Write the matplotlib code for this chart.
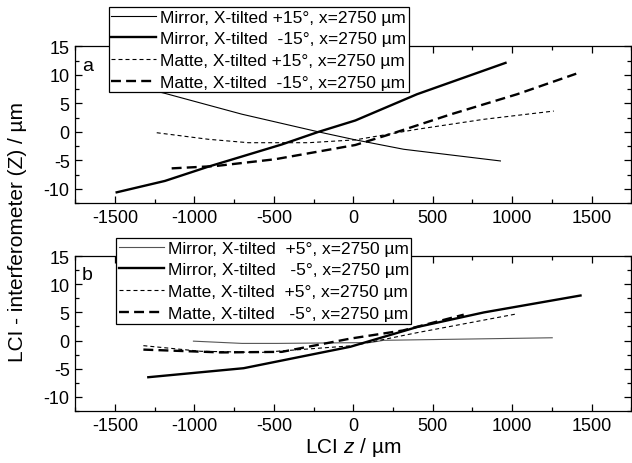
import matplotlib
matplotlib.use("Agg")
from matplotlib import pyplot as plt
from matplotlib.ticker import MultipleLocator

plt.rcParams["font.family"] = ["Liberation Sans", "DejaVu Sans"]
plt.rcParams["mathtext.fontset"] = "custom"
plt.rcParams["mathtext.it"] = "Liberation Sans:italic"
plt.rcParams["axes.unicode_minus"] = False

# panel a: +/-15 deg tilt
a_mirror_p_x = [-1250, -1185, -701, -219, 13, 317, 926]
a_mirror_p_y = [7.2, 6.75, 3.1, 0.0, -1.4, -3.05, -5.1]
a_mirror_m_x = [-1489, -1185, -912, -449, -219, 13, 401, 958]
a_mirror_m_y = [-10.6, -8.6, -6.1, -2.2, 0.0, 2.0, 6.6, 12.1]
a_matte_p_x = [-1237, -912, -660, -282, 13, 401, 821, 1262]
a_matte_p_y = [-0.15, -1.3, -1.9, -1.9, -1.4, 0.45, 2.2, 3.65]
a_matte_m_x = [-1143, -870, -492, 13, 233, 611, 1031, 1403]
a_matte_m_y = [-6.4, -6.0, -4.8, -2.3, -0.4, 3.05, 6.6, 10.2]

# panel b: +/-5 deg tilt
b_mirror_p_x = [-1006, -700, -481, 107, 191, 1252]
b_mirror_p_y = [-0.1, -0.5, -0.5, -0.35, 0.05, 0.5]
b_mirror_m_x = [-1290, -690, -19, 401, 822, 1430]
b_mirror_m_y = [-6.5, -4.9, -1.1, 2.4, 5.0, 8.0]
b_matte_p_x = [-1321, -959, -578, 0, 401, 1031]
b_matte_p_y = [-0.9, -1.9, -2.1, -0.9, 1.4, 4.75]
b_matte_m_x = [-1321, -832, -450, -19, 313, 695]
b_matte_m_y = [-1.6, -2.1, -2.0, 0.35, 1.8, 4.6]

labels_a = ["Mirror, X-tilted +15°, x=2750 µm",
            "Mirror, X-tilted  -15°, x=2750 µm",
            "Matte, X-tilted +15°, x=2750 µm",
            "Matte, X-tilted  -15°, x=2750 µm"]
labels_b = ["Mirror, X-tilted  +5°, x=2750 µm",
            "Mirror, X-tilted   -5°, x=2750 µm",
            "Matte, X-tilted  +5°, x=2750 µm",
            "Matte, X-tilted   -5°, x=2750 µm"]

fig = plt.figure(figsize=(6.32, 4.64), dpi=100)
ax_a = fig.add_axes([0.119, 0.560, 0.880, 0.338])
ax_b = fig.add_axes([0.119, 0.112, 0.880, 0.334])


def style_axes(ax, tag):
    ax.set_xlim(-1750, 1750)
    ax.set_ylim(-12.5, 15)
    ax.xaxis.set_major_locator(MultipleLocator(500))
    ax.xaxis.set_minor_locator(MultipleLocator(250))
    ax.yaxis.set_major_locator(MultipleLocator(5))
    ax.yaxis.set_minor_locator(MultipleLocator(2.5))
    ax.tick_params(which="both", direction="in", top=True, right=True,
                   labelsize=13, width=0.9, pad=4)
    ax.tick_params(which="major", length=5)
    ax.tick_params(which="minor", length=3)
    for s in ax.spines.values():
        s.set_linewidth(0.9)
    ax.text(0.012, 0.935, tag, transform=ax.transAxes, fontsize=14,
            va="top", ha="left")


def draw(ax, series, labels, anchor, thin_color):
    styles = [dict(color=thin_color, lw=0.8, ls="-"),
              dict(color="black", lw=1.7, ls="-"),
              dict(color="black", lw=0.8, ls=(0, (3.6, 2.7))),
              dict(color="black", lw=1.7, ls=(0, (4.2, 2.2)))]
    for (x, y), st, lab in zip(series, styles, labels):
        ax.plot(x, y, label=lab, **st)
    leg = ax.legend(loc="upper left", bbox_to_anchor=anchor,
                    bbox_transform=fig.transFigure, fontsize=12.5,
                    frameon=True, fancybox=False, framealpha=1,
                    edgecolor="black", borderpad=0.15, labelspacing=0.38,
                    handlelength=2.6, handletextpad=0.2, borderaxespad=0)
    leg.get_frame().set_linewidth(0.9)
    leg.set_zorder(10)


style_axes(ax_a, "a")
style_axes(ax_b, "b")

draw(ax_a, [(a_mirror_p_x, a_mirror_p_y), (a_mirror_m_x, a_mirror_m_y),
            (a_matte_p_x, a_matte_p_y), (a_matte_m_x, a_matte_m_y)],
     labels_a, (0.172, 0.983), "black")
draw(ax_b, [(b_mirror_p_x, b_mirror_p_y), (b_mirror_m_x, b_mirror_m_y),
            (b_matte_p_x, b_matte_p_y), (b_matte_m_x, b_matte_m_y)],
     labels_b, (0.184, 0.485), "#555555")

ax_b.set_xlabel("LCI $z$ / µm", fontsize=15, labelpad=1)
fig.text(0.012, 0.5, "LCI - interferometer (Z) / µm", rotation=90,
         fontsize=15, va="center", ha="left")

fig.savefig("out.png", dpi=100)
